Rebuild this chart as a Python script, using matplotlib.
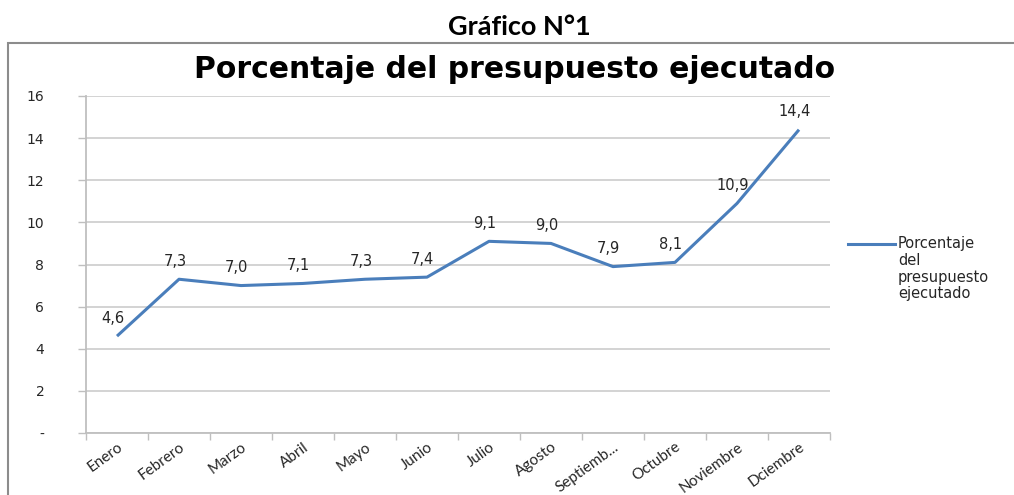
import matplotlib
matplotlib.use("Agg")
import matplotlib.pyplot as plt
from matplotlib.patches import Rectangle
from matplotlib.lines import Line2D

months = ["Enero", "Febrero", "Marzo", "Abril", "Mayo", "Junio", "Julio",
          "Agosto", "Septiemb...", "Octubre", "Noviembre", "Dciembre"]
values = [4.6, 7.3, 7.0, 7.1, 7.3, 7.4, 9.1, 9.0, 7.9, 8.1, 10.9, 14.4]
yticks = [0, 2, 4, 6, 8, 10, 12, 14, 16]
ytick_labels = ["-", "2", "4", "6", "8", "10", "12", "14", "16"]
series_name = "Porcentaje del presupuesto ejecutado"

W, H = 1014, 495
fig = plt.figure(figsize=(W / 100, H / 100), dpi=100)

# outer chart border
fig.patches.append(Rectangle((8 / W, -0.05), 1.1, 1 - 43 / H + 0.05,
                             transform=fig.transFigure, fill=False,
                             edgecolor="#8c8c8c", linewidth=1.5))

fig.text(519 / W, 1 - 27 / H, "Gráfico N°1", ha="center", va="center",
         fontsize=19.5, fontweight="bold", family="Lato")
fig.text(515 / W, 1 - 70 / H, series_name, ha="center", va="center",
         fontsize=21.5, fontweight="bold", family="DejaVu Sans")

ax = fig.add_axes([86 / W, 1 - 433 / H, (830 - 86) / W, (433 - 96) / H])
x = list(range(len(months)))
line_color = "#4a7ebb"
ax.plot(x, values, color=line_color, linewidth=2.2, solid_capstyle="butt")

for xi, v in zip(x, values):
    ax.annotate(f"{v:.1f}".replace(".", ","), (xi, v), xytext=(-3, 13),
                textcoords="offset points", ha="center", va="center",
                fontsize=10.5, color="#262626", family="DejaVu Sans")

ax.set_xlim(-0.5, len(months) - 0.5)
ax.set_ylim(0, 16)
ax.set_yticks(yticks)
ax.set_yticklabels(ytick_labels, family="DejaVu Sans", fontsize=10, color="#262626")
ax.tick_params(axis="y", length=6, pad=24, color="#bfbfbf", width=1)
ax.grid(axis="y", color="#d0d0d0", linewidth=1.3)
ax.set_axisbelow(True)

ax.set_xticks(x)
ax.set_xticklabels(months, rotation=36, ha="right", rotation_mode="anchor",
                   family="Lato", fontsize=11, color="#262626")
ax.set_xticks([i + 0.5 for i in range(-1, len(months))], minor=True)
ax.tick_params(axis="x", which="major", length=0, pad=5)
ax.tick_params(axis="x", which="minor", length=5, color="#bfbfbf", width=1)

for s in ["top", "right"]:
    ax.spines[s].set_visible(False)
ax.spines["left"].set_color("#bfbfbf")
ax.spines["bottom"].set_color("#bfbfbf")
ax.spines["left"].set_linewidth(1.3)
ax.spines["bottom"].set_linewidth(1.3)

# legend
fig.lines.append(Line2D([848 / W, 895 / W], [1 - 244 / H, 1 - 244 / H],
                        transform=fig.transFigure, color=line_color, linewidth=2.2))
fig.text(898 / W, 1 - 236 / H, "Porcentaje\ndel\npresupuesto\nejecutado",
         ha="left", va="top", fontsize=10.5, color="#262626",
         family="DejaVu Sans", linespacing=1.15)

fig.savefig("out.png", dpi=100)
